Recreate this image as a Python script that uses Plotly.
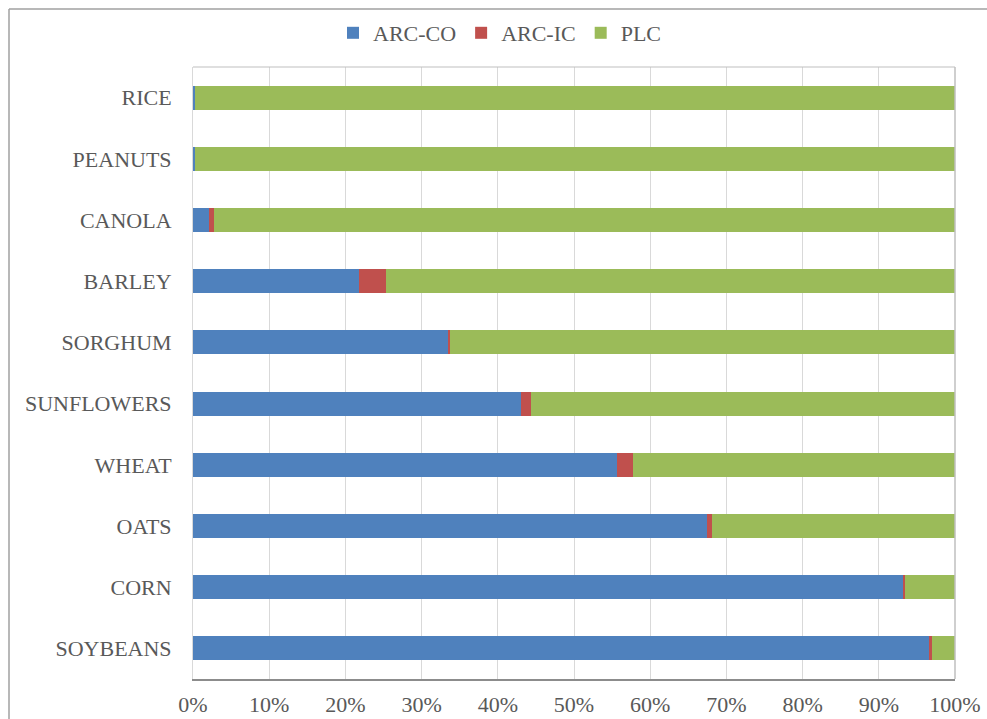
import plotly.graph_objects as go

# Share of base acres enrolled in each program, by crop (percent)
crops = ["RICE", "PEANUTS", "CANOLA", "BARLEY", "SORGHUM",
         "SUNFLOWERS", "WHEAT", "OATS", "CORN", "SOYBEANS"]
arc_co = [0.2, 0.3, 2.1, 21.8, 33.5, 43.1, 55.6, 67.5, 93.2, 96.6]
arc_ic = [0.0, 0.0, 0.6, 3.5, 0.2, 1.2, 2.1, 0.6, 0.3, 0.4]
plc = [99.8, 99.7, 97.3, 74.7, 66.3, 55.7, 42.3, 31.9, 6.5, 3.0]
x_ticks = [0, 10, 20, 30, 40, 50, 60, 70, 80, 90, 100]
x_tick_labels = [f"{v}%" for v in x_ticks]

FONT = "Liberation Serif, Times New Roman, serif"
TEXT = "#595959"

fig = go.Figure()
for name, vals, color in [("ARC-CO", arc_co, "#4F81BD"),
                          ("ARC-IC", arc_ic, "#C0504D"),
                          ("PLC", plc, "#9BBB59")]:
    fig.add_trace(go.Bar(
        y=crops, x=vals, name=name, orientation="h",
        marker=dict(color=color, line=dict(width=0)),
    ))

W, H = 987, 719
L, R, T, B = 193, 32, 67, 40
pw, ph = W - L - R, H - T - B

def px_x(p):
    return (p - L) / pw

def px_y(p):
    return (H - B - p) / ph

fig.update_layout(
    width=W, height=H,
    margin=dict(l=L, r=R, t=T, b=B, pad=0, autoexpand=False),
    barmode="stack",
    bargap=0.61,
    paper_bgcolor="white",
    plot_bgcolor="white",
    font=dict(family=FONT, size=22, color=TEXT),
    legend=dict(
        orientation="h",
        x=px_x(500), xanchor="center",
        y=px_y(33), yanchor="middle",
        font=dict(family=FONT, size=22, color=TEXT),
        itemwidth=30,
        traceorder="normal",
    ),
    xaxis=dict(
        range=[0, 100],
        tickmode="array",
        tickvals=x_ticks,
        ticktext=x_tick_labels,
        showgrid=True, gridcolor="#d9d9d9", gridwidth=1,
        zeroline=False,
        showline=True, linecolor="#8c8c8c", linewidth=1.5,
        ticks="", ticklabelstandoff=5,
        automargin=False,
        tickfont=dict(family=FONT, size=22, color=TEXT),
    ),
    yaxis=dict(
        categoryorder="array", categoryarray=crops,
        autorange="reversed",
        showgrid=False, zeroline=False,
        showline=True, linecolor="#d9d9d9", linewidth=1,
        ticks="", ticklabelstandoff=16,
        automargin=False,
        tickfont=dict(family=FONT, size=22, color=TEXT),
    ),
    shapes=[
        # light border around the plotting area (top and right edges)
        dict(type="line", xref="paper", yref="paper", x0=0, x1=1, y0=1, y1=1,
             line=dict(color="#bfbfbf", width=1.2), layer="above"),
        dict(type="line", xref="paper", yref="paper", x0=1, x1=1, y0=0, y1=1,
             line=dict(color="#bfbfbf", width=1.5), layer="above"),
        # outer chart frame: left and top edges
        dict(type="line", xref="paper", yref="paper",
             x0=px_x(9), x1=px_x(9), y0=px_y(H + 5), y1=px_y(9),
             line=dict(color="#a0a0a0", width=1.5), layer="below"),
        dict(type="line", xref="paper", yref="paper",
             x0=px_x(9), x1=px_x(W + 5), y0=px_y(9), y1=px_y(9),
             line=dict(color="#a0a0a0", width=1.5), layer="below"),
    ],
)

fig.write_html("out.html")
